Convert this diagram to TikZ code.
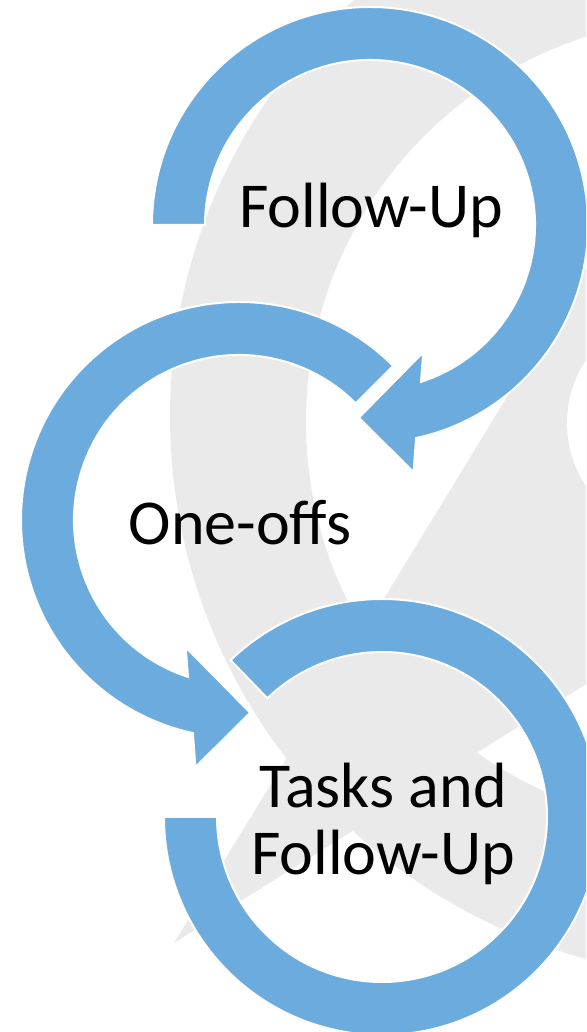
\documentclass[tikz,border=0pt]{standalone}
\usepackage{fontspec}
\setmainfont{Carlito}
\definecolor{arrowblue}{RGB}{108,171,221}
\definecolor{markgray}{RGB}{234,234,234}
\tikzset{
	arrowring/.style={fill=arrowblue, draw=white, line width=1pt},
	steptext/.style={font=\fontsize{32}{33.5}\selectfont, align=center, anchor=base}
}
\begin{document}
\begin{tikzpicture}[x=0.5pt,y=0.5pt]
\useasboundingbox (0,0) rectangle (586,1032);
\coordinate (c1) at (370,807);
\coordinate (c2) at (239,512);
\coordinate (c3) at (382,215);
\begin{scope}
\clip (0,0) rectangle (586,1032);
\fill[markgray, even odd rule] (732,616) circle[radius=562] (711,610) circle[radius=405];
\fill[markgray] (174,89) -- (760,1050) -- (760,457) -- cycle;
\fill[white] (681,609) circle[radius=114];
\path[arrowring] ([shift={(180:218)}]c1) arc[start angle=180, end angle=-77.8, radius=218]
	-- ([shift={(-80:251)}]c1) -- ([shift={(-93.3:193)}]c1) -- ([shift={(-67.3:138)}]c1)
	-- ([shift={(-72:165)}]c1) arc[start angle=-72, end angle=180, radius=165] -- cycle;
\path[arrowring] ([shift={(45:218)}]c2) arc[start angle=45, end angle=257.8, radius=218]
	-- ([shift={(-100:251)}]c2) -- ([shift={(-86.7:193)}]c2) -- ([shift={(-112.7:138)}]c2)
	-- ([shift={(252:165)}]c2) arc[start angle=252, end angle=45, radius=165] -- cycle;
\path[arrowring] ([shift={(180:218)}]c3) arc[start angle=180, end angle=494, radius=218]
	-- ([shift={(134:165)}]c3) arc[start angle=134, end angle=-180, radius=165] -- cycle;
\end{scope}
\node[steptext] (followup) at (371,804) {Follow-Up};
\node[steptext] (oneoffs) at (240,487) {One-offs};
\node[steptext] (tasks) at (383,157) {Tasks and\\Follow-Up};
\end{tikzpicture}
\end{document}
